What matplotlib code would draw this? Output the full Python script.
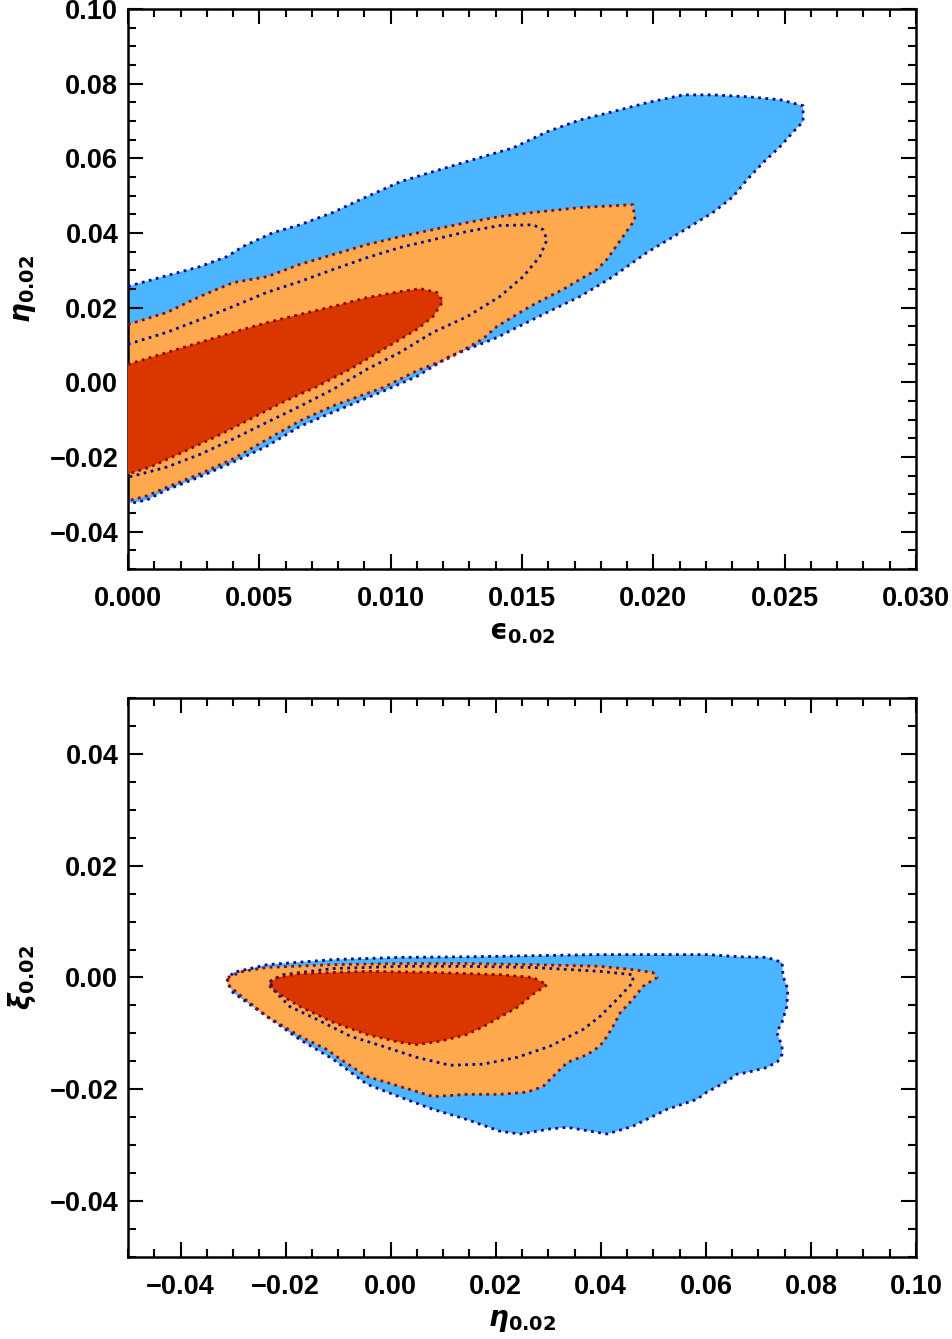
import matplotlib
matplotlib.use("Agg")
import matplotlib.pyplot as plt
from matplotlib.ticker import MultipleLocator, FuncFormatter

plt.rcParams['font.family'] = ['Liberation Sans', 'DejaVu Sans']
plt.rcParams['font.weight'] = 'bold'
plt.rcParams['mathtext.fontset'] = 'dejavusans'

# ---- top panel: eps_0.02 vs eta_0.02 (contour outlines) ----
top_blue_x = [0.0, 0.00133, 0.00274, 0.00377, 0.00438, 0.00552, 0.00655, 0.00780, 0.00883, 0.01035,
              0.01188, 0.01340, 0.01466, 0.01595, 0.01721, 0.01846, 0.01976, 0.02113, 0.02227, 0.02357,
              0.02482, 0.02570, 0.02570, 0.02547, 0.02482, 0.02417, 0.02357, 0.02303, 0.02265, 0.02227,
              0.02102, 0.01976, 0.01846, 0.01721, 0.01595, 0.01466, 0.01405, 0.01226, 0.01100, 0.00971,
              0.00780, 0.00655, 0.00529, 0.00400, 0.00274, 0.00148, 0.00072, 0.00019, 0.0]
top_blue_y = [0.0257, 0.0283, 0.0310, 0.0337, 0.0364, 0.0401, 0.0422, 0.0455, 0.0489, 0.0537,
              0.0570, 0.0602, 0.0628, 0.0671, 0.0703, 0.0725, 0.0749, 0.0770, 0.0770, 0.0765,
              0.0757, 0.0741, 0.0698, 0.0682, 0.0631, 0.0588, 0.0543, 0.0497, 0.0476, 0.0455,
              0.0401, 0.0348, 0.0283, 0.0230, 0.0187, 0.0142, 0.0120, 0.0070, 0.0016, -0.0024,
              -0.0080, -0.0118, -0.0171, -0.0214, -0.0253, -0.0288, -0.0315, -0.0323, -0.0322]

top_orange_x = [0.0, 0.00148, 0.00274, 0.00400, 0.00529, 0.00655, 0.00780, 0.00910, 0.01035, 0.01161,
                0.01291, 0.01416, 0.01542, 0.01721, 0.01846, 0.01922, 0.01930, 0.01884, 0.01823, 0.01785,
                0.01656, 0.01530, 0.01405, 0.01352, 0.01226, 0.01100, 0.00971, 0.00780, 0.00655, 0.00529,
                0.00400, 0.00274, 0.00148, 0.00072, 0.00019, 0.0]
top_orange_y = [0.0155, 0.0187, 0.0230, 0.0267, 0.0283, 0.0316, 0.0342, 0.0369, 0.0390, 0.0409,
                0.0428, 0.0444, 0.0455, 0.0468, 0.0473, 0.0476, 0.0436, 0.0390, 0.0329, 0.0302,
                0.0249, 0.0203, 0.0150, 0.0117, 0.0066, 0.0031, -0.0014, -0.0063, -0.0103, -0.0153,
                -0.0205, -0.0245, -0.0281, -0.0304, -0.0314, -0.0316]

top_red_x = [0.0, 0.00148, 0.00274, 0.00400, 0.00529, 0.00655, 0.00780, 0.00910, 0.01035, 0.01112,
             0.01176, 0.01199, 0.01161, 0.01100, 0.00971, 0.00845, 0.00720, 0.00590, 0.00464, 0.00339,
             0.00209, 0.00084, 0.0]
top_red_y = [0.0048, 0.0080, 0.0107, 0.0134, 0.0160, 0.0182, 0.0203, 0.0227, 0.0243, 0.0251,
             0.0241, 0.0217, 0.0176, 0.0142, 0.0088, 0.0035, -0.0011, -0.0053, -0.0099, -0.0144,
             -0.0187, -0.0227, -0.0246]

top_inner_x = [0.0, 0.00148, 0.00274, 0.00400, 0.00529, 0.00655, 0.00780, 0.00910, 0.01035, 0.01161,
               0.01291, 0.01416, 0.01542, 0.01580, 0.01595, 0.01568, 0.01504, 0.01416, 0.01291, 0.01161,
               0.01035, 0.00910, 0.00780, 0.00655, 0.00529, 0.00400, 0.00274, 0.00148, 0.00046, 0.0]
top_inner_y = [0.0102, 0.0134, 0.0168, 0.0203, 0.0241, 0.0270, 0.0302, 0.0334, 0.0361, 0.0382,
               0.0404, 0.0420, 0.0422, 0.0409, 0.0382, 0.0337, 0.0283, 0.0230, 0.0176, 0.0134,
               0.0080, 0.0035, -0.0019, -0.0064, -0.0107, -0.0152, -0.0193, -0.0227, -0.0246, -0.0254]

# ---- bottom panel: eta_0.02 vs xi_0.02 ----
bot_blue_x = [-0.0312, -0.0300, -0.0235, -0.0110, 0.0018, 0.0145, 0.0271, 0.0398, 0.0475, 0.0602,
              0.0665, 0.0716, 0.0745, 0.0747, 0.0756, 0.0754, 0.0745, 0.0735, 0.0745, 0.0745,
              0.0737, 0.0716, 0.0678, 0.0659, 0.0640, 0.0602, 0.0583, 0.0526, 0.0461, 0.0412,
              0.0336, 0.0303, 0.0246, 0.0208, 0.0145, 0.0081, 0.0018, -0.0045, -0.0110, -0.0173,
              -0.0235, -0.0300]
bot_blue_y = [-0.0007, 0.0009, 0.0023, 0.0032, 0.0036, 0.0037, 0.0039, 0.0041, 0.0041, 0.0041,
              0.0037, 0.0036, 0.0027, 0.0002, -0.0021, -0.0052, -0.0080, -0.0098, -0.0123, -0.0138,
              -0.0150, -0.0161, -0.0170, -0.0173, -0.0186, -0.0205, -0.0218, -0.0236, -0.0266, -0.0280,
              -0.0268, -0.0271, -0.0280, -0.0275, -0.0254, -0.0236, -0.0214, -0.0191, -0.0146, -0.0111,
              -0.0070, -0.0027]

bot_orange_x = [-0.0310, -0.0281, -0.0235, -0.0110, 0.0018, 0.0145, 0.0271, 0.0398, 0.0461, 0.0499,
                0.0507, 0.0480, 0.0461, 0.0437, 0.0423, 0.0412, 0.0398, 0.0374, 0.0336, 0.0309,
                0.0290, 0.0260, 0.0208, 0.0145, 0.0081, 0.0018, -0.0045, -0.0096, -0.0121, -0.0173,
                -0.0235, -0.0281, -0.0310]
bot_orange_y = [0.0000, 0.0011, 0.0018, 0.0023, 0.0025, 0.0025, 0.0023, 0.0020, 0.0014, 0.0009,
                0.0000, -0.0016, -0.0039, -0.0063, -0.0088, -0.0105, -0.0123, -0.0138, -0.0152, -0.0177,
                -0.0195, -0.0205, -0.0209, -0.0209, -0.0213, -0.0195, -0.0177, -0.0146, -0.0129, -0.0105,
                -0.0070, -0.0036, -0.0013]

bot_red_x = [-0.0230, -0.0216, -0.0173, -0.0045, 0.0081, 0.0208, 0.0271, 0.0298, 0.0271, 0.0240,
             0.0208, 0.0176, 0.0145, 0.0094, 0.0050, 0.0018, -0.0045, -0.0110, -0.0173, -0.0211,
             -0.0230]
bot_red_y = [-0.0009, 0.0000, 0.0007, 0.0011, 0.0009, 0.0005, 0.0000, -0.0013, -0.0030, -0.0054,
             -0.0071, -0.0088, -0.0102, -0.0114, -0.0120, -0.0116, -0.0102, -0.0080, -0.0052, -0.0030,
             -0.0016]

bot_inner_x = [-0.0230, -0.0205, -0.0110, 0.0018, 0.0145, 0.0271, 0.0398, 0.0461, 0.0461, 0.0431,
               0.0398, 0.0366, 0.0303, 0.0240, 0.0176, 0.0113, 0.0050, -0.0015, -0.0077, -0.0140,
               -0.0192, -0.0224]
bot_inner_y = [-0.0007, 0.0005, 0.0016, 0.0020, 0.0020, 0.0018, 0.0011, 0.0005, -0.0009, -0.0039,
               -0.0070, -0.0093, -0.0123, -0.0143, -0.0155, -0.0157, -0.0143, -0.0123, -0.0105, -0.0075,
               -0.0052, -0.0021]

blue = '#4bb5ff'
orange = '#ffa94f'
red = '#d93600'
navy = '#0a0a8c'
maroon = '#8c0a0a'
dots = (0, (1, 1.6))


def closed(xs, ys):
    return list(xs) + [xs[0]], list(ys) + [ys[0]]


def minus(fmt):
    return FuncFormatter(lambda v, p: (fmt % v).replace('-', '\u2212'))


def style(ax, xmaj, xmin, ymaj, ymin, xfmt, yfmt):
    ax.xaxis.set_major_locator(MultipleLocator(xmaj))
    ax.xaxis.set_minor_locator(MultipleLocator(xmin))
    ax.yaxis.set_major_locator(MultipleLocator(ymaj))
    ax.yaxis.set_minor_locator(MultipleLocator(ymin))
    ax.xaxis.set_major_formatter(minus(xfmt))
    ax.yaxis.set_major_formatter(minus(yfmt))
    ax.tick_params(which='both', direction='in', top=True, right=True, width=1.5, labelsize=19.5)
    ax.tick_params(which='major', length=11)
    ax.tick_params(which='minor', length=6)
    ax.tick_params(axis='x', which='major', pad=12)
    ax.tick_params(axis='y', which='major', pad=7)
    for s in ax.spines.values():
        s.set_linewidth(1.8)


def draw(ax, bx, by, ox, oy, rx, ry, ix, iy, open_left=False):
    ax.fill(bx, by, color=blue, lw=0, zorder=1)
    ax.fill(ox, oy, color=orange, lw=0, zorder=2)
    ax.fill(rx, ry, color=red, lw=0, zorder=3)
    if open_left:
        lines = [(bx, by, navy), (ox, oy, maroon), (ix, iy, navy), (rx, ry, maroon)]
    else:
        lines = [(*closed(bx, by), navy), (*closed(ox, oy), maroon),
                 (*closed(ix, iy), navy), (*closed(rx, ry), maroon)]
    for xs, ys, c in lines:
        ax.plot(xs, ys, color=c, lw=2.0, linestyle=dots, zorder=4)


fig = plt.figure(figsize=(9.53, 13.39), dpi=100)
ax1 = fig.add_axes([0.1343, 0.57506, 0.8269, 0.41822])
ax2 = fig.add_axes([0.1343, 0.06124, 0.8269, 0.41748])

draw(ax1, top_blue_x, top_blue_y, top_orange_x, top_orange_y, top_red_x, top_red_y,
     top_inner_x, top_inner_y, open_left=True)
ax1.set_xlim(0.0, 0.030)
ax1.set_ylim(-0.05, 0.10)
style(ax1, 0.005, 0.001, 0.02, 0.005, '%.3f', '%.2f')
ax1.set_xlabel('$\\boldsymbol{\u03f5}_{\\mathbf{0.02}}$', fontsize=20, labelpad=6)
ax1.set_ylabel(r'$\boldsymbol{\eta}_{\mathbf{0.02}}$', fontsize=20, labelpad=8)

draw(ax2, bot_blue_x, bot_blue_y, bot_orange_x, bot_orange_y, bot_red_x, bot_red_y,
     bot_inner_x, bot_inner_y)
ax2.set_xlim(-0.05, 0.10)
ax2.set_ylim(-0.05, 0.05)
style(ax2, 0.02, 0.005, 0.02, 0.005, '%.2f', '%.2f')
ax2.set_xlabel(r'$\boldsymbol{\eta}_{\mathbf{0.02}}$', fontsize=20, labelpad=6)
ax2.set_ylabel(r'$\boldsymbol{\xi}_{\mathbf{0.02}}$', fontsize=20, labelpad=8)

fig.savefig('out.png', dpi=100)
